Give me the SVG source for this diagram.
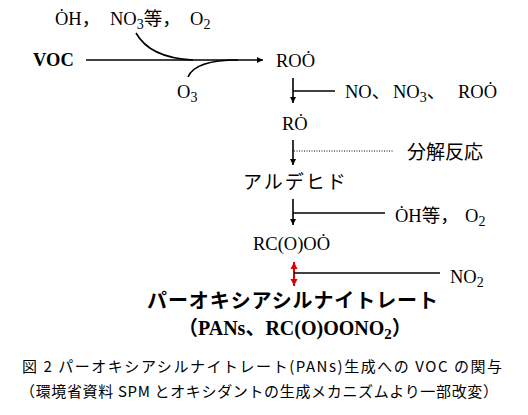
<svg xmlns="http://www.w3.org/2000/svg" width="528" height="415" viewBox="0 0 528 415">
<style>
.t{font-family:"Liberation Serif","Noto Sans CJK JP",serif;font-size:18.5px;fill:#000}
.j{font-family:"Noto Sans CJK JP",sans-serif;font-size:19px;fill:#000}
.b{font-family:"Liberation Serif","Noto Sans CJK JP",serif;font-weight:bold;fill:#000}
.cap{font-family:"Noto Sans CJK JP","Liberation Sans",sans-serif;font-size:15px;fill:#000}
.sub{font-size:14px}
.ln{stroke:#000;stroke-width:1.6;fill:none}
</style>
<defs>
<marker id="ah" viewBox="0 0 10 10" refX="10" refY="5" markerWidth="6" markerHeight="6" markerUnits="userSpaceOnUse" orient="auto"><path d="M0,0L10,5L0,10z" fill="#000"/></marker>
<marker id="rh" viewBox="0 0 10 10" refX="10" refY="5" markerWidth="7" markerHeight="8" markerUnits="userSpaceOnUse" orient="auto-start-reverse"><path d="M0,0L10,5L0,10z" fill="#e00000"/></marker>
</defs>
<g id="connectors">
<line class="ln" x1="86" y1="60" x2="263" y2="60" marker-end="url(#ah)"/>
<path class="ln" d="M136,33 Q150,58 193,60"/>
<path class="ln" d="M188,77 Q195,60 238,60"/>
<line class="ln" x1="293" y1="78" x2="293" y2="103" marker-end="url(#ah)"/>
<line class="ln" x1="293" y1="91" x2="335" y2="91"/>
<line class="ln" x1="293" y1="140" x2="293" y2="165" marker-end="url(#ah)"/>
<line x1="294" y1="151" x2="393" y2="151" stroke="#000" stroke-width="1.2" stroke-dasharray="1,1.5"/>
<line class="ln" x1="293" y1="199" x2="293" y2="225" marker-end="url(#ah)"/>
<line class="ln" x1="293" y1="213" x2="385" y2="213"/>
<line x1="294" y1="262" x2="294" y2="286" stroke="#e00000" stroke-width="2" marker-start="url(#rh)" marker-end="url(#rh)"/>
<line class="ln" x1="294" y1="273" x2="440" y2="273"/>
</g>
<g id="reagents-top"><text class="t" y="25"><tspan x="55">ȮH</tspan><tspan font-family="Noto Sans CJK JP">，</tspan><tspan x="110">NO</tspan><tspan class="sub" dy="4">3</tspan><tspan dy="-4" font-family="Noto Sans CJK JP">等，</tspan><tspan x="190">O</tspan><tspan class="sub" dy="4">2</tspan></text></g>
<g id="voc"><text class="b" x="33" y="66" font-size="18.5">VOC</text></g>
<g id="o3"><text class="t" x="177" y="98">O<tspan class="sub" dy="4">3</tspan></text></g>
<g id="roo"><text class="t" x="276" y="67">ROȮ</text></g>
<g id="reagents-no"><text class="t" y="98"><tspan x="345">NO</tspan><tspan font-family="Noto Sans CJK JP">、</tspan><tspan x="393">NO</tspan><tspan class="sub" dy="4">3</tspan><tspan dy="-4" font-family="Noto Sans CJK JP">、</tspan><tspan x="458">ROȮ</tspan></text></g>
<g id="ro"><text class="t" x="282" y="130">RȮ</text></g>
<g id="decomp"><text class="j" x="407" y="159">分解反応</text></g>
<g id="aldehyde"><text class="j" x="243" y="189" letter-spacing="2">アルデヒド</text></g>
<g id="reagents-oh"><text class="t" y="222"><tspan x="395">ȮH</tspan><tspan font-family="Noto Sans CJK JP">等，</tspan><tspan x="465">O</tspan><tspan class="sub" dy="4">2</tspan></text></g>
<g id="rcooo"><text class="t" x="253" y="250">RC(O)OȮ</text></g>
<g id="no2"><text class="t" x="450" y="283">NO<tspan class="sub" dy="4">2</tspan></text></g>
<g id="pans"><text class="b" x="147" y="308" font-size="20" font-family="Noto Sans CJK JP" textLength="291">パーオキシアシルナイトレート</text>
<text class="b" x="178" y="335" font-size="20">（PANs、RC(O)OONO<tspan font-size="15" dy="4">2</tspan><tspan dy="-4">）</tspan></text></g>
<g id="caption"><text class="cap" x="22" y="372" textLength="480">図 2 パーオキシアシルナイトレート(PANs)生成への VOC の関与</text>
<text class="cap" x="20" y="397" textLength="478">（環境省資料 SPM とオキシダントの生成メカニズムより一部改変）</text></g>
</svg>
